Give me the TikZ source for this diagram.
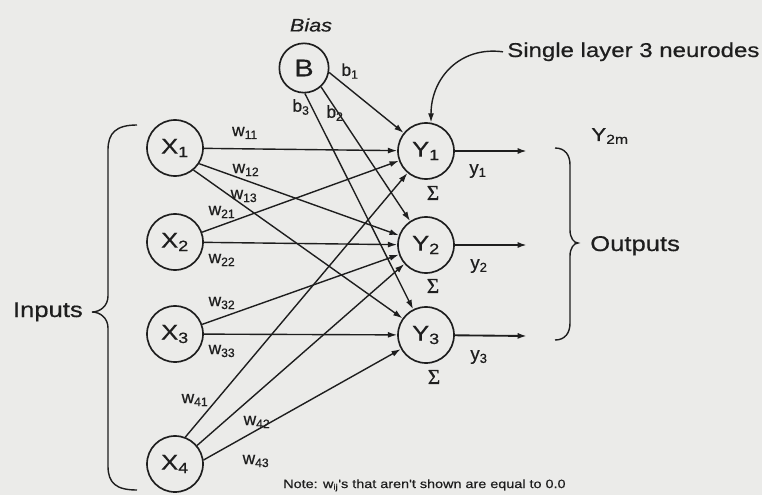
\documentclass[tikz,border=0pt]{standalone}
\usepackage{fontspec}
\setmainfont{Liberation Sans}[FakeBold=0.6]
\newfontfamily\widesans[FakeStretch=1.2,FakeBold=0.6]{Liberation Sans}
\newfontfamily\serifgreek[FakeBold=0.8]{Liberation Serif}
\usetikzlibrary{arrows.meta}
\definecolor{bg}{RGB}{235,235,233}
\definecolor{ink}{RGB}{30,30,30}
\begin{document}
\begin{tikzpicture}[x=0.75pt,y=-0.75pt,
  neuron/.style={circle,draw=ink,line width=1.25pt,minimum size=42pt,inner sep=0pt,
    font=\widesans\fontsize{16}{16}\selectfont,text=ink},
  conn/.style={draw=ink,line width=1.05pt,-{Latex[length=7pt,width=4.5pt]}},
  wl/.style={font=\fontsize{13}{13}\selectfont,text=ink,inner sep=0pt},
  sig/.style={font=\serifgreek\fontsize{16}{16}\selectfont,text=ink,inner sep=0pt},
  big/.style={font=\widesans\fontsize{16}{16}\selectfont,text=ink,inner sep=0pt},
  brace/.style={draw=ink,line width=1.05pt}
]
\fill[bg] (0,0) rectangle (762,495);
\useasboundingbox (0,0) rectangle (762,495);

% neurons
\node[neuron] (X1) at (175,148) {X\textsubscript{1}};
\node[neuron] (X2) at (175,242) {X\textsubscript{2}};
\node[neuron] (X3) at (175,334) {X\textsubscript{3}};
\node[neuron] (X4) at (175,464) {X\textsubscript{4}};
\node[neuron] (Y1) at (426,151) {Y\textsubscript{1}};
\node[neuron] (Y2) at (426,245) {Y\textsubscript{2}};
\node[neuron] (Y3) at (426,335) {Y\textsubscript{3}};
\node[neuron,minimum size=37pt,font=\widesans\fontsize{18}{18}\selectfont] (B) at (304,68) {B};

% weights
\draw[conn] (X1) -- (Y1);
\draw[conn] (X1.-33) -- (Y2);
\draw[conn] (X1.-50) -- (Y3);
\draw[conn] (X2) -- (Y1);
\draw[conn] (X2) -- (Y2);
\draw[conn] (X3) -- (Y2);
\draw[conn] (X3) -- (Y3);
\draw[conn] (X4.69) -- (Y1);
\draw[conn] (X4.40) -- (Y2);
\draw[conn] (X4.8) -- (Y3);
\draw[conn] (B.-10) -- (Y1);
\draw[conn] (B.-48) -- (Y2);
\draw[conn] (B.-88) -- (Y3);

% outputs
\coordinate (o1) at (527,151);
\coordinate (o2) at (527,245);
\coordinate (o3) at (527,336);
\draw[conn,line width=1.4pt] (Y1) -- (o1);
\draw[conn,line width=1.4pt] (Y2) -- (o2);
\draw[conn,line width=1.4pt] (Y3) -- (o3);

% weight labels
\node[wl] (w11) at (245,133) {w\textsubscript{11}};
\node[wl] (w12) at (246,170) {w\textsubscript{12}};
\node[wl] (w13) at (244,196) {w\textsubscript{13}};
\node[wl] (w21) at (222,212) {w\textsubscript{21}};
\node[wl] (w22) at (222,260) {w\textsubscript{22}};
\node[wl] (w32) at (222,303) {w\textsubscript{32}};
\node[wl] (w33) at (222,351) {w\textsubscript{33}};
\node[wl] (w41) at (195,400) {w\textsubscript{41}};
\node[wl] (w42) at (257,422) {w\textsubscript{42}};
\node[wl] (w43) at (256,461) {w\textsubscript{43}};
\node[wl] (b1) at (350,71) {b\textsubscript{1}};
\node[wl] (b3) at (301,107) {b\textsubscript{3}};
\node[wl] (b2) at (335,113) {b\textsubscript{2}};
\node[wl,font=\fontsize{14}{14}\selectfont] (y1) at (478,171) {y\textsubscript{1}};
\node[wl,font=\fontsize{14}{14}\selectfont] (y2) at (479,266) {y\textsubscript{2}};
\node[wl,font=\fontsize{14}{14}\selectfont] (y3) at (479,357) {y\textsubscript{3}};
\node[sig] (s1) at (433,193) {Σ};
\node[sig] (s2) at (433,286) {Σ};
\node[sig] (s3) at (434,377) {Σ};

% texts
\node[big,font=\widesans\itshape\fontsize{13.5}{13.5}\selectfont] (bias) at (311,25) {Bias};
\node[big,font=\widesans\fontsize{15}{15}\selectfont,anchor=base west] (lbl) at (507,57) {Single layer 3 neurodes};
\draw[conn] ([xshift=-3pt]lbl.west) .. controls (460,46) and (431,78) .. (Y1.80);
\node[wl,font=\widesans\fontsize{14}{14}\selectfont] (y2m) at (610,136) {Y\textsubscript{2m}};
\node[big,anchor=base west] (outs) at (590,251) {Outputs};
\node[big,anchor=base east] (ins) at (83,317) {Inputs};
\node[big,font=\widesans\fontsize{9}{9}\selectfont,anchor=base west] (note) at (283,488)
  {Note: w\textsubscript{ij}'s that aren't shown are equal to 0.0};

% braces
\draw[brace] (137,125) .. controls (116,125) and (108,133) .. (108,150) -- (108,296)
  .. controls (108,306) and (100,312) .. (92,312)
  .. controls (100,312) and (108,318) .. (108,328) -- (108,466)
  .. controls (108,483) and (116,490) .. (137,490);
\draw[brace] (555,148) .. controls (565,148) and (570,155) .. (570,165) -- (570,230)
  .. controls (570,238) and (574,243) .. (578,243)
  .. controls (574,243) and (570,248) .. (570,256) -- (570,323)
  .. controls (570,333) and (565,340) .. (555,340);
\end{tikzpicture}
\end{document}
